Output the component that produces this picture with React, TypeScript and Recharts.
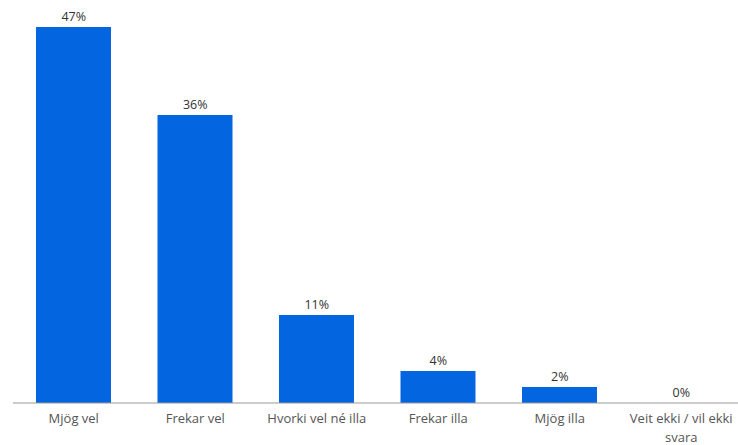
import { ComposedChart, Bar, Line, XAxis, YAxis, LabelList, Text } from "recharts";

const categories = [
  "Mjög vel",
  "Frekar vel",
  "Hvorki vel né illa",
  "Frekar illa",
  "Mjög illa",
  "Veit ekki / vil ekki svara",
];
const shares = [47, 36, 11, 4, 2, 0];

const data = categories.map((label, i) => ({ label, value: shares[i] }));

const FONT = "'Open Sans', sans-serif";

function CategoryTick(props: any) {
  const { x, y, payload } = props;
  return (
    <Text
      x={x}
      y={y + 3}
      width={135}
      textAnchor="middle"
      verticalAnchor="start"
      fontSize={13}
      fontFamily={FONT}
      fill="#555"
      lineHeight={19}
    >
      {payload.value}
    </Text>
  );
}

export default function App() {
  return (
    <div style={{ position: "absolute", left: 0, top: 0, width: 738, height: 445, overflow: "hidden" }}>
      <ComposedChart
        width={746}
        height={445}
        data={data}
        margin={{ top: 3, right: 4, left: 13, bottom: 0 }}
      >
        <XAxis
          dataKey="label"
          tick={<CategoryTick />}
          tickLine={false}
          interval={0}
          height={42}
          axisLine={{ stroke: "#999" }}
        />
        <YAxis hide domain={[0, 50]} />
        <Bar dataKey="value" fill="#0366e0" barSize={75} isAnimationActive={false} />
        <Line
          dataKey="value"
          stroke="none"
          dot={false}
          activeDot={false}
          legendType="none"
          isAnimationActive={false}
        >
          <LabelList
            dataKey="value"
            position="top"
            offset={6}
            formatter={(v: any) => `${v}%`}
            style={{ fontSize: 12.5, fontFamily: FONT, fill: "#333" }}
          />
        </Line>
      </ComposedChart>
    </div>
  );
}
